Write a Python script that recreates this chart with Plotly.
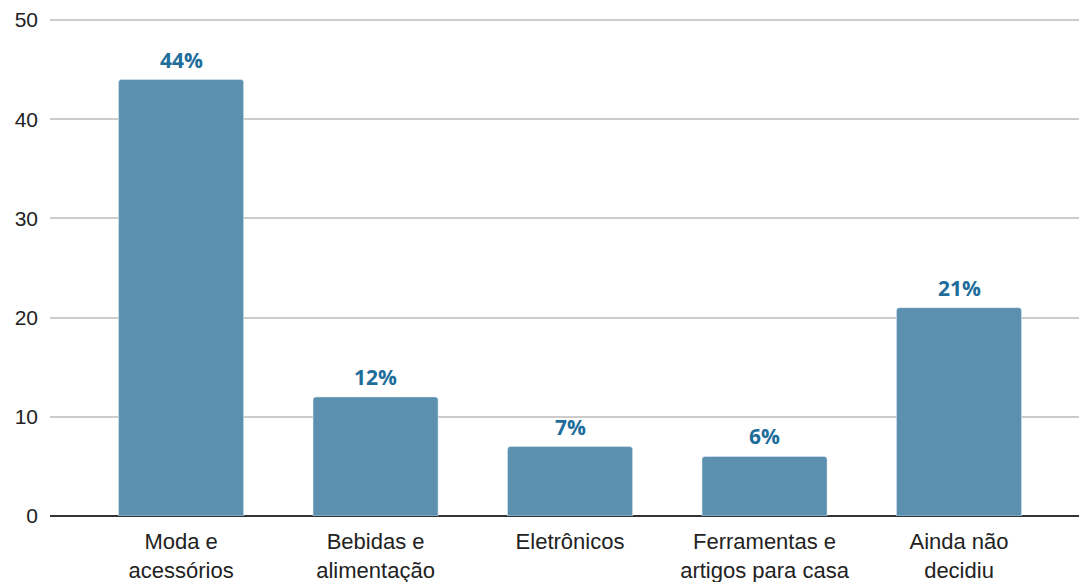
import plotly.graph_objects as go

categories = ["Moda e<br>acessórios", "Bebidas e<br>alimentação", "Eletrônicos",
              "Ferramentas e<br>artigos para casa", "Ainda não<br>decidiu"]
values = [44, 12, 7, 6, 21]
labels = ["44%", "12%", "7%", "6%", "21%"]
yticks = [0, 10, 20, 30, 40, 50]

fig = go.Figure()
fig.add_trace(go.Bar(
    x=list(range(len(categories))), y=values,
    marker=dict(color="#5b91ae", cornerradius=3),
    width=0.643,
    hoverinfo="skip",
))
for i, (v, t) in enumerate(zip(values, labels)):
    fig.add_annotation(x=i, y=v, text=t, showarrow=False, yanchor="bottom", yshift=4,
                       font=dict(family="Open Sans", size=21, color="#1e6d9b", weight="bold"))

fig.update_layout(
    width=1079, height=582,
    margin=dict(l=50, r=0, t=18, b=66),
    paper_bgcolor="white", plot_bgcolor="white",
    showlegend=False,
    font=dict(family="Liberation Sans, Arial, sans-serif", size=21, color="#222222"),
)
fig.update_xaxes(
    range=[-0.674, 4.617], automargin=False,
    tickmode="array", tickvals=list(range(len(categories))), ticktext=categories,
    showgrid=False, showline=False, zeroline=False, ticks="", ticklabelstandoff=10,
    tickfont=dict(size=22, color="#222222"),
)
fig.update_yaxes(
    range=[0, 50.2], tickvals=yticks, showgrid=True, gridcolor="#cccccc", gridwidth=1.5,
    zeroline=True, zerolinecolor="#333333", zerolinewidth=1.5, automargin=False,
    ticks="", ticklabelstandoff=11, tickfont=dict(size=21, color="#222222"),
)
fig.write_html("out.html", config={"displayModeBar": False},
               post_script="document.body.style.margin='0';document.body.style.overflow='hidden';")
